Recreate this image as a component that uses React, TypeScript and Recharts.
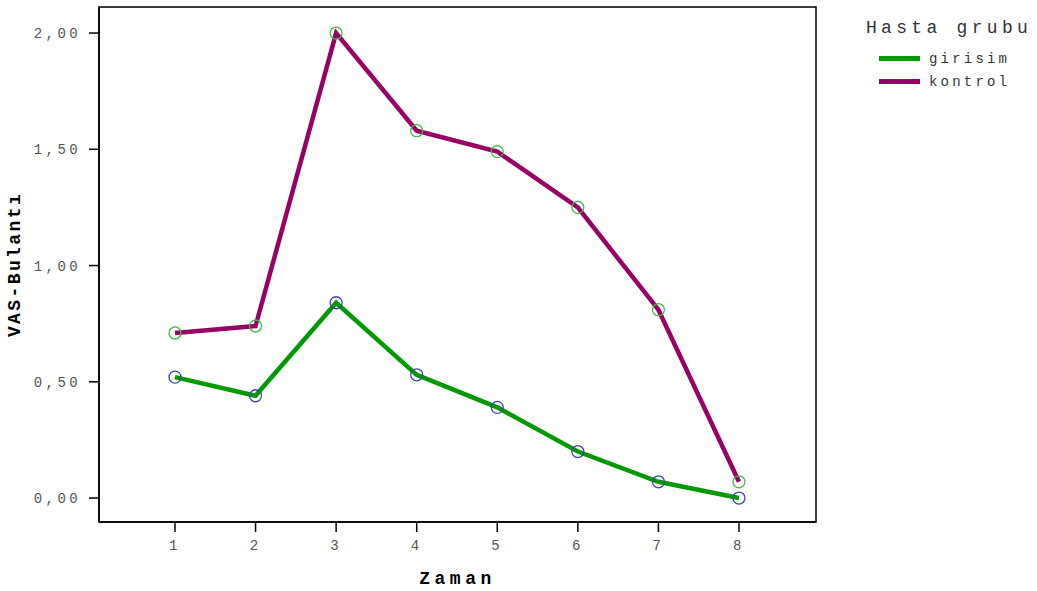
import React from "react";
import { Line, LineChart, ReferenceArea, XAxis, YAxis } from "recharts";

const zaman = [1, 2, 3, 4, 5, 6, 7, 8];
const girisim = [0.52, 0.44, 0.84, 0.53, 0.39, 0.2, 0.07, 0.0];
const kontrol = [0.71, 0.74, 2.0, 1.58, 1.49, 1.25, 0.81, 0.07];
const yTicks = [0, 0.5, 1, 1.5, 2];

const data = zaman.map((z, i) => ({ zaman: z, girisim: girisim[i], kontrol: kontrol[i] }));

const X_DOMAIN: [number, number] = [0.057, 8.956];
const Y_DOMAIN: [number, number] = [-0.103, 2.112];

const FONT = "'Liberation Mono', 'DejaVu Sans Mono', monospace";
const GREEN = "#009a00";
const PURPLE = "#990066";

const tickStyle = { fontFamily: FONT, fontSize: 14, fill: "#555", letterSpacing: 3.4 };

function Ring(color: string) {
  return (props: any) => {
    const { cx, cy, index } = props;
    if (cx == null || cy == null) return <g key={index} />;
    return <circle key={index} cx={cx} cy={cy} r={6} fill="none" stroke={color} strokeWidth={1.3} />;
  };
}

function LegendBox() {
  const items = [
    { name: "girisim", color: GREEN },
    { name: "kontrol", color: PURPLE },
  ];
  return (
    <div style={{ position: "absolute", left: 866, top: 15, fontFamily: FONT, color: "#333" }}>
      <div style={{ fontSize: 18, letterSpacing: 4.3, whiteSpace: "nowrap", height: 26, lineHeight: "26px", marginBottom: 6 }}>Hasta grubu</div>
      {items.map((it) => (
        <div key={it.name} style={{ display: "flex", alignItems: "center", height: 23, marginLeft: 13 }}>
          <div style={{ width: 41, height: 5, background: it.color, marginRight: 9 }} />
          <span style={{ fontSize: 14, letterSpacing: 3.2 }}>{it.name}</span>
        </div>
      ))}
    </div>
  );
}

export default function App() {
  return (
    <div style={{ position: "absolute", left: 0, top: 0, width: 1037, height: 591, background: "#fff", overflow: "hidden" }}>
      <LineChart width={1037} height={591} data={data} margin={{ top: 7, right: 221, bottom: 0, left: 0 }}>
        <XAxis
          dataKey="zaman"
          type="number"
          domain={X_DOMAIN}
          ticks={zaman}
          allowDataOverflow
          height={69}
          tickSize={10}
          tickMargin={8}
          tick={tickStyle}
          axisLine={{ stroke: "#000", strokeWidth: 1.5 }}
          tickLine={{ stroke: "#000", strokeWidth: 1.5 }}
          label={{ value: "Zaman", position: "insideBottom", offset: 7, style: { fontFamily: FONT, fontSize: 18, fontWeight: "bold", fill: "#000", letterSpacing: 4.5 } }}
        />
        <YAxis
          type="number"
          domain={Y_DOMAIN}
          ticks={yTicks}
          allowDataOverflow
          tickSize={10}
          tickMargin={8}
          tick={tickStyle}
          tickFormatter={(v: number) => v.toFixed(2).replace(".", ",")}
          axisLine={{ stroke: "#000", strokeWidth: 1.5 }}
          tickLine={{ stroke: "#000", strokeWidth: 1.5 }}
          width={99}
          label={{ value: "VAS-Bulantı", angle: -90, position: "insideLeft", offset: 14, style: { textAnchor: "middle", fontFamily: FONT, fontSize: 18, fontWeight: "bold", fill: "#000", letterSpacing: 2.4 } }}
        />
        <ReferenceArea
          x1={X_DOMAIN[0]}
          x2={X_DOMAIN[1]}
          y1={Y_DOMAIN[0]}
          y2={Y_DOMAIN[1]}
          fill="none"
          fillOpacity={0}
          stroke="#000"
          strokeWidth={1.5}
          ifOverflow="visible"
        />
        <Line dataKey="kontrol" stroke={PURPLE} strokeWidth={4.5} dot={Ring("#3cba4a")} activeDot={false} isAnimationActive={false} />
        <Line dataKey="girisim" stroke={GREEN} strokeWidth={4.5} dot={Ring("#3b47b0")} activeDot={false} isAnimationActive={false} />
      </LineChart>
      <LegendBox />
    </div>
  );
}
